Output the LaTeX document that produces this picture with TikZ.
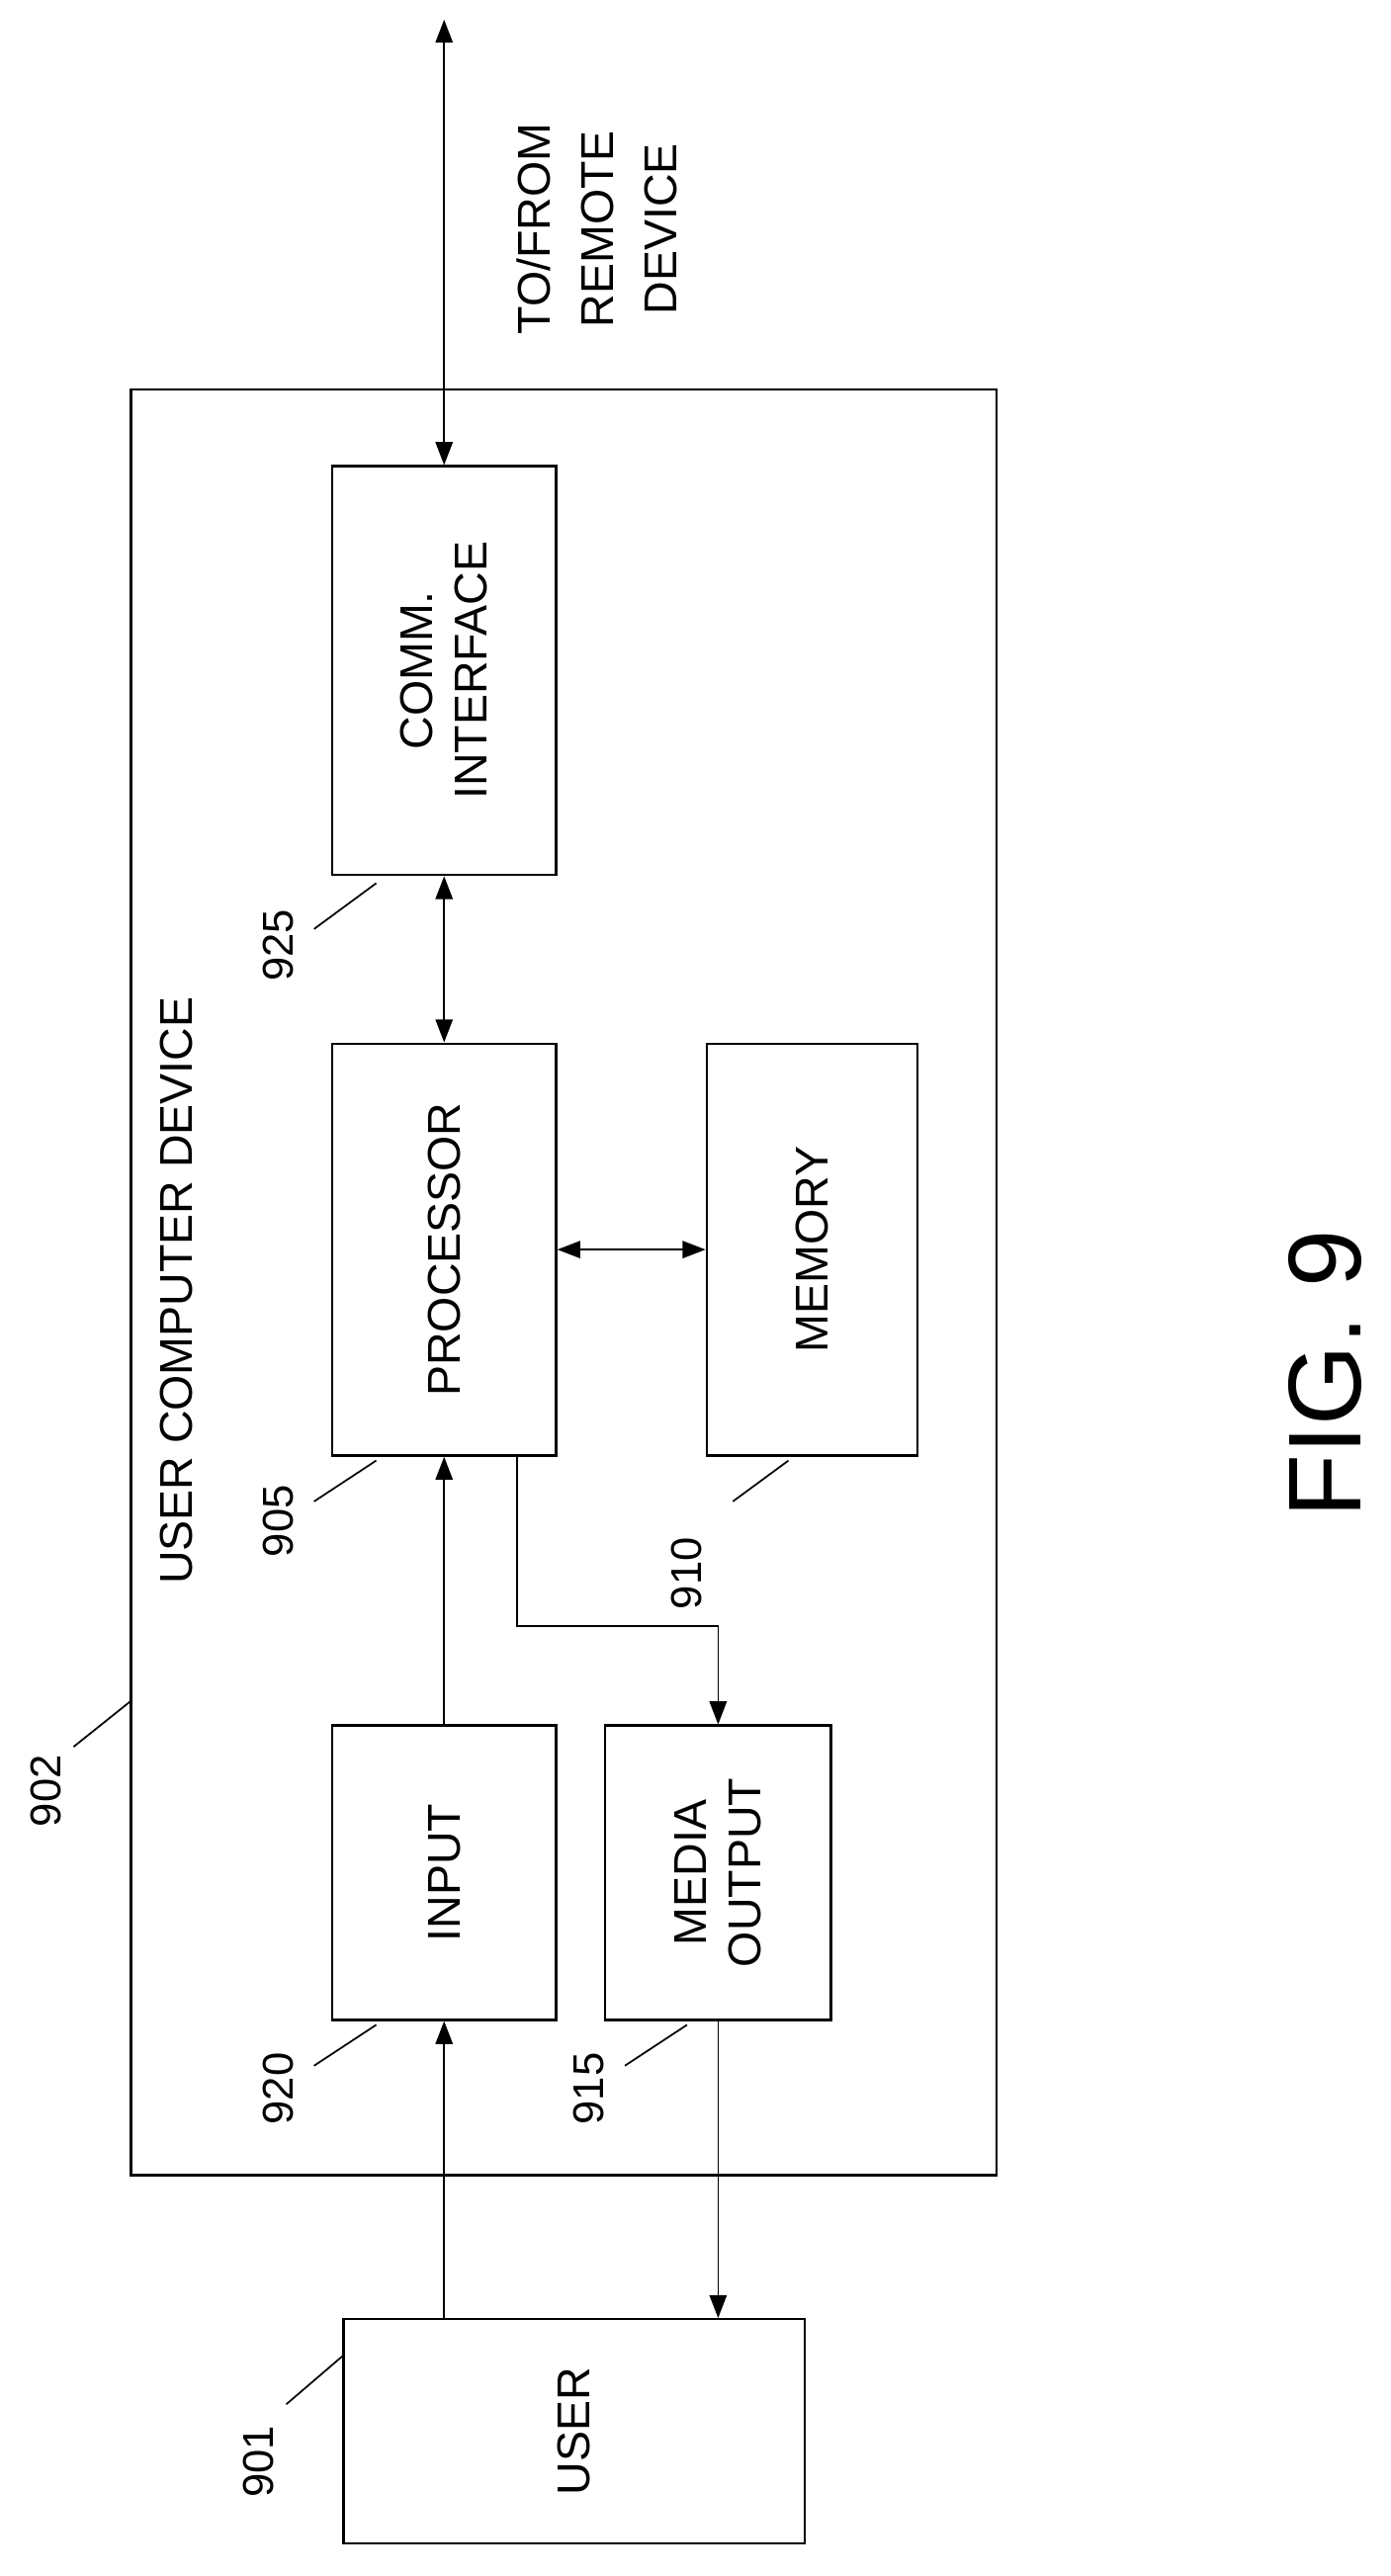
\documentclass[tikz,border=0pt]{standalone}
\usepackage{fontspec}
\setmainfont{Liberation Sans}
\usetikzlibrary{calc,arrows.meta}
\tikzset{
  box/.style={draw,line width=0.8pt,rotate=90,align=center,font=\fontsize{16}{19}\selectfont,inner sep=0pt},
  arr/.style={line width=0.6pt,-{Triangle[length=8pt,width=6pt]}},
  darr/.style={line width=0.6pt,{Triangle[length=8pt,width=6pt]}-{Triangle[length=8pt,width=6pt]}},
  lbl/.style={rotate=90,font=\fontsize{15}{18}\selectfont},
  lead/.style={line width=0.6pt}
}
\begin{document}
\begin{tikzpicture}[x=0.02cm,y=-0.02cm]
  \useasboundingbox (0,0) rectangle (850,1575);
  % outer device
  \draw[line width=0.8pt] (80,238) rectangle (609,1330);
  \node[lbl,font=\fontsize{16}{19}\selectfont,anchor=west] (devlbl) at (108,975) {USER COMPUTER DEVICE};
  % blocks
  \node[box,minimum width=5cm,minimum height=2.74cm] (comm) at (271.5,410) {COMM.\\INTERFACE};
  \node[box,minimum width=5.04cm,minimum height=2.74cm] (proc) at (271.5,764) {PROCESSOR};
  \node[box,minimum width=5.04cm,minimum height=2.58cm] (mem) at (496.5,764) {MEMORY};
  \node[box,minimum width=3.6cm,minimum height=2.74cm] (input) at (271.5,1145) {INPUT};
  \node[box,minimum width=3.6cm,minimum height=2.76cm] (media) at (439,1145) {MEDIA\\OUTPUT};
  \node[box,minimum width=2.74cm,minimum height=5.64cm] (user) at (351,1486.5) {USER};
  \coordinate (remote) at (271.5,12);
  \node[lbl,align=center,font=\fontsize{16}{22}\selectfont] (tofrom) at (365,140) {TO/FROM\\REMOTE\\DEVICE};
  % connectors
  \draw[darr] (remote) -- (comm);
  \draw[darr] (comm) -- (proc);
  \draw[darr] (proc) -- (mem);
  \draw[arr] (input) -- (proc);
  \draw[arr] ($(proc.west)+(44.5,0)$) |- ($(media.east)+(0,-60)$) -- (media.east);
  \draw[arr] (user.east -| input) -- (input.west);
  \draw[arr] (media.west) -- (media.west |- user.east);
  % reference numerals
  \node[lbl] (n925) at (170,578) {925};
  \draw[lead] (192,568) -- (230,540);
  \node[lbl] (n905) at (170,930) {905};
  \draw[lead] (192,918) -- (230,893);
  \node[lbl] (n910) at (420,962) {910};
  \draw[lead] (448,918) -- (482,893);
  \node[lbl] (n920) at (170,1277) {920};
  \draw[lead] (192,1263) -- (230,1238);
  \node[lbl] (n915) at (360,1277) {915};
  \draw[lead] (382,1263) -- (420,1238);
  \node[lbl] (n902) at (28,1095) {902};
  \draw[lead] (45,1068) -- (80,1040);
  \node[lbl] (n901) at (158,1505) {901};
  \draw[lead] (175,1470) -- (210,1440);
  \node[rotate=90,font=\fontsize{36}{40}\selectfont] (fig) at (810,840) {FIG. 9};
\end{tikzpicture}
\end{document}
